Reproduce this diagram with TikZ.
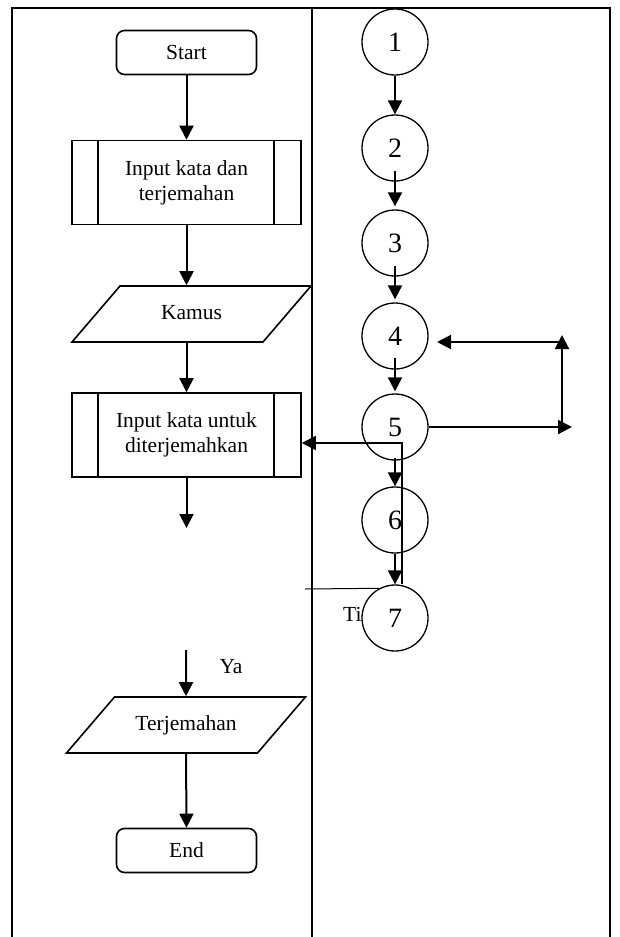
\documentclass[tikz,border=0pt]{standalone}
\usepackage{fontspec}
\setmainfont{Liberation Serif}
\usetikzlibrary{arrows, arrows.meta, shapes.geometric}

\begin{document}
\begin{tikzpicture}[x=1pt,y=-1pt,
  frame/.style={line width=2pt},
  arr/.style={line width=2pt,-{Triangle[width=14pt,length=14pt]}},
  txt/.style={font=\fontsize{21.5}{25}\selectfont},
  term/.style={txt,draw,line width=1.6pt,rounded corners=8pt,minimum width=140pt,minimum height=44pt},
  proc/.style={txt,draw,line width=1.6pt,align=center,minimum width=229pt,minimum height=84pt},
  io/.style={txt,draw,line width=1.6pt,trapezium,trapezium left angle=49.4,trapezium right angle=130.6,
    trapezium stretches body=true,text height=15pt,text depth=5pt,inner xsep=0pt,inner ysep=18pt,
    minimum width=239pt},
  num/.style={draw,circle,line width=1.3pt,inner sep=0pt,minimum size=66pt,font=\fontsize{28}{30}\selectfont}]
\useasboundingbox (0,0) rectangle (619,937);
\draw[frame] (12,937) -- (12,8) -- (610,8) -- (610,937); %table lines
\draw[frame] (311.5,8) -- (311.5,937);

% flowchart
\node[term] (start) at (186.5,52.5) {Start};
\node[proc] (p1) at (186.5,182.5) {Input kata dan\\terjemahan};
\node[io] (kamus) at (191.5,314) {Kamus};
\node[proc] (p2) at (186.5,435) {Input kata untuk\\diterjemahkan};
\node[io] (out) at (186,725) {Terjemahan};
\node[term] (stop) at (186.5,850.5) {End};
\foreach \p in {p1,p2} {
  \draw[line width=1.6pt] ([xshift=27pt]\p.north west) -- ([xshift=27pt]\p.south west);
  \draw[line width=1.6pt] ([xshift=-28pt]\p.north east) -- ([xshift=-28pt]\p.south east);
}
\draw[arr] (start.south) -- (p1.north);
\draw[arr] (p1.south) -- (p1.south |- kamus.north);
\draw[arr] (kamus.south -| p2.north) -- (p2.north);
\coordinate (d1) at (186.5,528);
\draw[arr] (p2.south) -- (d1);
\coordinate (y1) at (186,650);
\draw[arr] (y1) -- (out.north);
\node[txt] (ya) at (231,667) {Ya};
\draw[arr] (out.south) -- (stop.north);

% numbered circles
\foreach \n/\y in {1/42,2/148,3/243,4/336,5/427,6/520,7/618}
  \node[num] (c\n) at (395,\y) {\n};
\draw[arr] (c1.south) -- (c2.north);
\draw[arr] ([yshift=11pt]c2.south) -- ([yshift=3pt]c3.north);
\draw[arr] ([yshift=11pt]c3.south) -- ([yshift=3pt]c4.north);
\draw[arr] ([yshift=12pt]c4.south) -- ([yshift=2pt]c5.north);
\draw[arr] ([yshift=3pt]c5.south) -- (c6.north);
\draw[arr] (c6.south) -- (c7.north);

% loop on the right
\coordinate (r1) at (572,427);
\coordinate (r2) at (562,427);
\coordinate (r3) at (562,335);
\coordinate (r4) at (562,342);
\coordinate (r5) at (437,342);
\draw[arr] (c5.east) -- (r1);
\draw[arr] (r2) -- (r3);
\draw[arr] (r4) -- (r5);

% back to input
\draw[arr] ([xshift=7pt]c7.north) |- ([yshift=-8pt]p2.east);
\coordinate (t1) at (305,589);
\draw[line width=1pt] (t1) -- (c7.118);
\node[txt,anchor=west,inner sep=0pt] (ti) at (343,614) {Ti};
\end{tikzpicture}
\end{document}
